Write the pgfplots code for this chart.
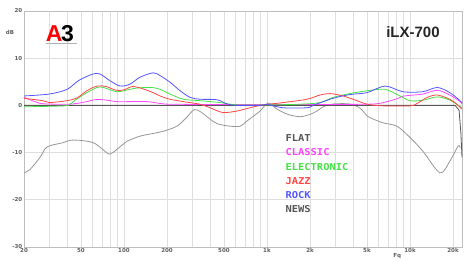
\documentclass[border=0pt]{standalone}
\usepackage{fontspec}
\setmainfont{DejaVu Sans}
\newfontfamily\titlefont{Liberation Sans}
\newfontfamily\legfont[FakeStretch=1.1]{DejaVu Sans Mono}
\usepackage{pgfplots}
\pgfplotsset{compat=1.18}
\definecolor{rockc}{RGB}{85,85,255}
\definecolor{jazzc}{RGB}{255,70,70}
\definecolor{elecc}{RGB}{70,225,70}
\definecolor{classc}{RGB}{255,70,255}
\definecolor{flatc}{RGB}{85,85,85}
\definecolor{newsc}{RGB}{150,150,150}
\definecolor{gridc}{RGB}{222,222,222}
\definecolor{tickc}{RGB}{95,95,95}
\begin{document}
\begin{tikzpicture}
\useasboundingbox (-24pt,-14pt) rectangle (444pt,247pt);
\begin{axis}[
  at={(0,0)}, anchor=south west,
  scale only axis, width=438pt, height=236pt,
  xmode=log, xmin=20, xmax=23100, ymin=-30, ymax=20,
  xtick={20,50,100,200,500,1000,2000,5000,10000,20000},
  xticklabels={20,50,100,200,500,1k,2k,5k,10k,20k},
  minor xtick={30,40,60,70,80,90,300,400,600,700,800,900,3000,4000,6000,7000,8000,9000},
  ytick={-30,-20,-10,0,10,20},
  grid=both,
  major grid style={draw=gridc, line width=0.6pt},
  minor grid style={draw=gridc, line width=0.6pt},
  major tick length=0pt, minor tick length=0pt,
  axis line style={draw=gridc!85!black, line width=0.6pt},
  ticklabel style={font=\bfseries\fontsize{5.5}{6}\selectfont, text=tickc, inner sep=1.5pt},
  /pgf/number format/assume math mode=true,
  clip=false,
]
% NEWS
\addplot[newsc, line width=0.8pt, smooth, tension=0.5] coordinates {
(20,-14.3) (22,-13.6) (25.9,-11.0) (29,-8.8) (37.5,-7.9) (42,-7.4) (49,-7.4) (61,-7.9) (71,-9.3) (80,-10.3) (98,-8.3) (105,-7.6) (130,-6.5) (170,-5.8) (188,-5.5) (235,-4.4) (275,-2.5) (310,-0.9) (345,-1.4) (400,-2.9) (450,-3.9) (550,-4.4) (650,-4.4) (725,-3.3) (894,-1.2) (1017,0.5) (1176,-0.8) (1400,-1.9) (1700,-2.4) (2000,-1.9) (2240,-1.2) (2470,-0.3) (2900,0.3) (3800,0.3) (4475,-0.6) (5000,-2.2) (5250,-2.6) (6480,-3.7) (8100,-4.4) (10000,-6.8) (12300,-9.7) (16200,-14.3) (19000,-11.8) (21700,-8.6) (22400,-9.0)
};
% FLAT
\addplot[flatc, line width=0.8pt] coordinates {
(20,0) (20656,0) (22030,-1.0) (22700,-6) (23100,-11)
};
% CLASSIC
\addplot[classc, line width=0.8pt, smooth, tension=0.5] coordinates {
(20,1.7) (26,0.4) (29,0.3) (42,0.25) (55,0.8) (62,1.2) (72,1.2) (89,0.8) (110,0.8) (145,0.8) (180,0.4) (210,0.25) (400,0.2) (1000,0.2) (3000,0.2) (5000,0.25) (6200,0.45) (8100,1.4) (8800,1.9) (9800,2.1) (12300,2.4) (15500,3.2) (19000,2.2) (22400,0.8) (23100,0.25)
};
% ELECTRONIC
\addplot[elecc, line width=0.8pt, smooth, tension=0.5] coordinates {
(20,-0.3) (38,-0.1) (42,0.3) (47,1.4) (55,2.7) (65,3.8) (72,3.8) (89,2.9) (110,3.4) (125,3.7) (156,3.8) (179,3.4) (210,2.4) (260,1.3) (340,1.0) (470,0.6) (617,0.1) (1000,0.1) (1700,0.25) (2350,0.6) (2900,1.7) (3800,2.5) (5000,3.1) (6700,3.4) (8500,2.0) (10000,1.0) (12300,1.1) (15500,1.8) (19000,1.1) (23100,-0.5)
};
% JAZZ
\addplot[jazzc, line width=0.8pt, smooth, tension=0.5] coordinates {
(20,1.5) (27,1.0) (30,0.6) (40,1.0) (47,1.6) (55,3.1) (65,4.1) (75,4.0) (88,3.2) (100,3.3) (115,4.0) (136,3.5) (160,2.7) (179,2.0) (210,1.3) (260,0.8) (340,0.25) (400,-0.5) (490,-1.5) (617,-1.2) (760,-0.5) (940,0.1) (1300,0.6) (1900,1.3) (2350,2.2) (2760,2.5) (3400,2.0) (4260,1.0) (5000,0.25) (6500,-0.1) (10000,-0.1) (11200,0.4) (13200,1.7) (15500,2.2) (19000,1.3) (20600,0.6) (23100,-0.8)
};
% ROCK
\addplot[rockc, line width=0.8pt, smooth, tension=0.5] coordinates {
(20,2.0) (30,2.4) (40,3.4) (49,5.4) (65,6.8) (80,5.2) (94,4.1) (110,4.5) (130,6.0) (160,6.9) (179,6.3) (210,4.9) (247,3.1) (290,1.7) (340,1.3) (447,1.2) (526,0.3) (617,0) (894,0) (1000,0.2) (1295,-0.5) (1906,-0.5) (2100,0) (2900,1.5) (3800,2.3) (5000,2.7) (6700,4.1) (8900,2.9) (12300,2.9) (15500,3.8) (19000,2.7) (22400,1.0) (23100,0.5)
};
% labels
\node[anchor=west, text=flatc, font=\legfont\bfseries\fontsize{9.5}{10}\selectfont] at (rel axis cs:0.589,0.462) {FLAT};
\node[anchor=west, text=classc, font=\legfont\bfseries\fontsize{9.5}{10}\selectfont] at (rel axis cs:0.589,0.403) {CLASSIC};
\node[anchor=west, text=elecc, font=\legfont\bfseries\fontsize{9.5}{10}\selectfont] at (rel axis cs:0.589,0.339) {ELECTRONIC};
\node[anchor=west, text=jazzc, font=\legfont\bfseries\fontsize{9.5}{10}\selectfont] at (rel axis cs:0.589,0.280) {JAZZ};
\node[anchor=west, text=rockc, font=\legfont\bfseries\fontsize{9.5}{10}\selectfont] at (rel axis cs:0.589,0.220) {ROCK};
\node[anchor=west, text=flatc, font=\legfont\bfseries\fontsize{9.5}{10}\selectfont] at (rel axis cs:0.589,0.161) {NEWS};
\node[anchor=east, text=black!85, font=\titlefont\bfseries\fontsize{15}{15}\selectfont] at (rel axis cs:0.957,0.911) {iLX-700};
\node[inner sep=0pt, font=\titlefont\bfseries\fontsize{23}{23}\selectfont] at (rel axis cs:0.082,0.903) {\textcolor{red}{A}\kern-1.5pt\textcolor{black}{3}};
\draw[gray!60, line width=0.8pt] (rel axis cs:0.05,0.862) -- (rel axis cs:0.12,0.862);
\node[text=tickc, font=\bfseries\fontsize{5.5}{6}\selectfont] at (rel axis cs:-0.032,0.911) {dB};
\node[text=tickc, font=\bfseries\fontsize{5.5}{6}\selectfont] at (rel axis cs:0.852,-0.038) {Fq};
\end{axis}
\end{tikzpicture}
\end{document}
